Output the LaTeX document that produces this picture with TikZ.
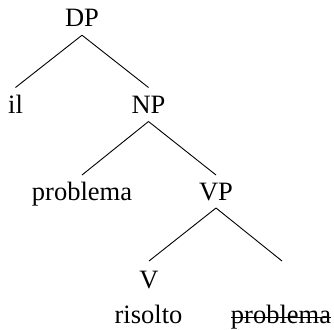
\documentclass[tikz,border=0pt]{standalone}
\usepackage{fontspec}
\setmainfont{Liberation Serif}
\begin{document}
\begin{tikzpicture}[x=1pt,y=1pt,
  lab/.style={inner sep=0pt,anchor=base,font=\fontsize{26.5}{30}\selectfont},
  edge/.style={line width=0.9pt}]
\useasboundingbox (0,0) rectangle (334,-329);
\node[lab] (DP) at (82,-26.7) {DP};
\node[lab] (il) at (15.5,-113) {il};
\node[lab] (NP) at (148.5,-113) {NP};
\node[lab] (p1) at (82,-200) {problema};
\node[lab] (VP) at (216,-200) {VP};
\node[lab] (V) at (149,-288) {V};
\node[lab] (ris) at (148.5,-323) {risolto};
\node[lab] (p2) at (281,-323) {problema};
\coordinate (vpr) at (282,-261);
\draw[edge] ([yshift=-8.5pt]DP.base) -- ([yshift=25.5pt]il.base);
\draw[edge] ([yshift=-8.5pt]DP.base) -- ([yshift=25.5pt]NP.base);
\draw[edge] ([yshift=-8.5pt]NP.base) -- ([yshift=25pt]p1.base);
\draw[edge] ([yshift=-8.5pt]NP.base) -- ([yshift=25pt]VP.base);
\draw[edge] ([yshift=-8pt]VP.base) -- ([yshift=27pt]V.base);
\draw[edge] ([yshift=-8pt]VP.base) -- (vpr);
\draw[line width=0.9pt] ([yshift=6pt]p2.base west) -- ([yshift=6pt]p2.base east);
\end{tikzpicture}
\end{document}
